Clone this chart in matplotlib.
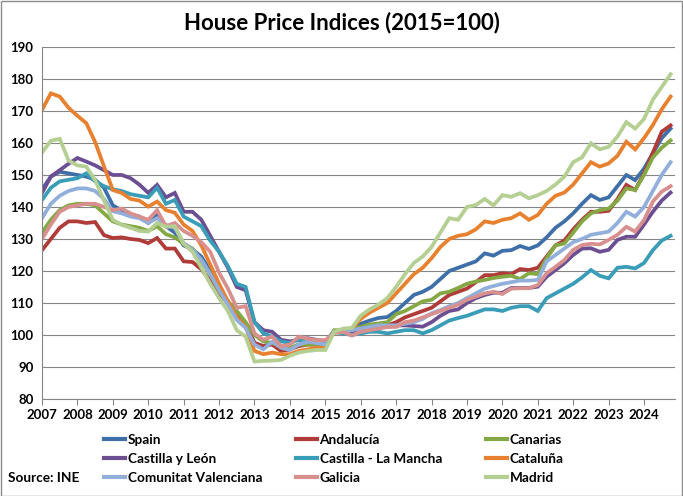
import matplotlib
matplotlib.use("Agg")
import matplotlib.pyplot as plt
from matplotlib.patches import Rectangle

plt.rcParams['font.family'] = ['Lato', 'DejaVu Sans']

# quarterly, 2007Q1 .. 2024Q4
years = list(range(2007, 2025))

spain = [145.5, 149.5, 151, 150.5, 150, 149.5, 148.5, 146, 140.5, 139, 137.5, 137,
         135, 137.5, 134, 132, 128, 126.7, 124.5, 120, 115, 110.5, 106, 103.5,
         97.5, 96.5, 97.5, 95.5, 95.5, 97, 97.5, 97, 97.5, 101, 101.5, 101.5,
         103.5, 104.5, 105.3, 105.6, 107.5, 110, 112.5, 113.5, 115, 117.5, 120, 121,
         122, 123, 125.5, 124.8, 126.3, 126.5, 127.8, 126.9, 128, 130.5, 133.5, 135.5,
         138, 141, 143.7, 142.2, 143, 146.5, 150, 148.4, 152, 156.8, 161.5, 164.5]
andalucia = [126.5, 130, 133.5, 135.5, 135.5, 135, 135.3, 131.2, 130.3, 130.5, 130, 129.7,
             128.7, 130.3, 127, 127, 123, 122.8, 120.5, 117, 113, 110, 106, 103.5,
             97.5, 96.5, 97, 95, 95.5, 96.5, 97, 97, 97.5, 101, 101.5, 101.5,
             102, 102.5, 102.8, 103, 104, 105.5, 106.5, 107.5, 108.5, 110.5, 112.5, 113.5,
             114.5, 116.5, 118.7, 118.7, 119.3, 119, 120.6, 120.3, 121, 124.5, 128, 129.5,
             133, 136, 138.5, 138.5, 138.8, 142.5, 146.9, 145.3, 150.5, 157, 163.5, 165.5]
canarias = [132, 136, 139, 140.5, 141, 141, 140.5, 138, 135.5, 134.5, 134, 133.5,
            132.5, 134, 131.5, 130.5, 128.5, 127, 123, 119, 114, 110.5, 107.5, 104,
            100, 98, 97.5, 96.5, 96, 97, 97, 97, 97, 101.5, 101.5, 102,
            102.5, 103.3, 103.6, 104, 106.5, 107.5, 109, 110.5, 111, 113, 113.5, 114.7,
            116, 116.7, 117.2, 117.8, 118.2, 118.5, 117.5, 119.3, 119, 124, 128, 128.6,
            132, 135.5, 138, 139, 139.5, 142, 145.8, 145.3, 150, 155.5, 158.5, 160.8]
castilla_leon = [144.4, 149.5, 151.5, 153.5, 155.3, 154.2, 153, 151.5, 150, 150, 149, 147,
                 144.4, 146.9, 143, 144.4, 138.5, 138.5, 136, 131, 126, 121, 115, 114,
                 104, 101.5, 101, 98.5, 98, 98.5, 99, 98.5, 98, 101, 101, 101,
                 102, 102, 102.5, 102.5, 103, 103, 102.8, 102.6, 104, 106, 107.5, 108,
                 110, 111.5, 112.5, 113.2, 113.2, 114.7, 114.7, 114.7, 115.1, 118.2, 120.3, 122.4,
                 125, 127, 127.1, 126, 126.6, 129.7, 130.7, 130.7, 134.5, 138.5, 142, 144.5]
castilla_mancha = [142.2, 146, 148, 148.5, 149, 150.5, 148, 146.5, 145.5, 145, 144, 143.5,
                   143, 146, 141, 142.2, 137, 135.5, 134, 129.5, 126, 121.5, 116, 115,
                   104, 100.5, 99.5, 98, 97.5, 98.5, 98, 97.5, 98, 101, 100.5, 100,
                   100.5, 101, 101, 100.5, 101, 101.5, 101.5, 100.5, 101.5, 103, 104.5, 105.3,
                   106, 107, 108, 108, 107.5, 108.5, 109, 109, 107.5, 111.5, 113, 114.5,
                   116, 118, 120.3, 118.5, 117.7, 121, 121.3, 120.8, 122.5, 126.5, 129.5, 131]
cataluna = [170.3, 175.5, 174.5, 171, 168.5, 166.2, 160.3, 152.7, 145.3, 144.4, 142.5, 142,
            140.1, 141.7, 139, 138.2, 134.5, 132.5, 128, 122, 116, 110.5, 105.5, 102.5,
            95, 94, 94.5, 94, 94, 95, 95.5, 96, 96, 101, 101.5, 102,
            105, 107, 108.5, 110, 113, 116, 119, 121, 124, 127.5, 130, 131,
            131.5, 133, 135.5, 135, 136, 136.5, 138, 136, 137.5, 141, 143.5, 144.5,
            147, 150.5, 154, 152.6, 153.6, 156, 160.4, 158, 161.5, 165.6, 170.5, 174.5]
valenciana = [136.5, 141, 143.5, 145, 145.8, 145.8, 145, 142.5, 138.7, 138, 137, 136.5,
              135, 136.5, 134.4, 133.5, 128.7, 126.6, 123.5, 119, 114, 109.5, 104.7, 102.2,
              97, 95.5, 97.9, 96, 95.3, 97, 97.9, 97.5, 97, 101, 101, 101.5,
              102, 102.5, 103, 103, 103, 103.5, 104, 105, 106.8, 107.8, 109, 110,
              111.5, 113, 114.5, 115.3, 116, 116.5, 117, 117, 117.2, 123, 125, 127,
              129, 130, 131.3, 131.8, 132.3, 135, 138.5, 137, 140, 145, 150, 154]
galicia = [130, 134.5, 138.5, 140, 140.5, 141, 141, 140, 139, 139.5, 138, 137,
           136, 139, 134, 135, 132.5, 131, 129, 126, 119.5, 114.5, 108.5, 109,
           100.5, 98.5, 99.5, 96.5, 97, 99.5, 98.8, 98.4, 98.4, 100.6, 101, 99.8,
           101, 101.5, 102, 102.5, 102.5, 104, 104.5, 105.5, 106.5, 107.5, 108.5, 109.5,
           111, 112, 113, 113.5, 112.8, 114.5, 114.6, 114.6, 115.6, 119.3, 121.3, 123.4,
           126.6, 128.1, 128.5, 128.3, 129.7, 131.3, 133.8, 132.3, 135.9, 141.7, 144.8, 146.5]
madrid = [157, 160.7, 161.3, 154.5, 153, 152.6, 148.4, 142, 136, 134.4, 133.5, 132.5,
          132.3, 135, 133.8, 134, 128.5, 126, 121, 116, 111.5, 107.5, 101.5, 99.5,
          91.7, 91.9, 92, 92.2, 93.5, 94.5, 95, 95.3, 95.3, 101, 102, 102.2,
          106, 108, 109.5, 111.5, 115, 119, 122.5, 124.5, 127.5, 132, 136.5, 136,
          140, 140.6, 142.5, 140.5, 143.7, 143.2, 144.3, 142.7, 143.7, 145, 147, 149.5,
          154, 155.5, 159.9, 158, 158.8, 162, 166.5, 164.5, 167.5, 173.5, 177.5, 181.5]

names = ["Spain", "Andalucía", "Canarias", "Castilla y León", "Castilla - La Mancha",
         "Cataluña", "Comunitat Valenciana", "Galicia", "Madrid"]
series = [spain, andalucia, canarias, castilla_leon, castilla_mancha,
          cataluna, valenciana, galicia, madrid]
colors = ["#3f6fa8", "#b03c3a", "#84a843", "#6b4f92", "#3a9db8",
          "#e8812f", "#92afdb", "#d8908f", "#b5cf93"]

fig = plt.figure(figsize=(6.83, 4.96), dpi=100)
ax = fig.add_axes([0.0615, 0.1956, 0.9268, 0.7097])

x = list(range(len(spain)))
lines = []
for name, vals, c in zip(names, series, colors):
    ln, = ax.plot(x, vals, color=c, lw=2.7, label=name, solid_joinstyle='miter')
    lines.append(ln)

ax.set_xlim(0, 71.5)
ax.set_ylim(80, 190)
ax.set_yticks(range(80, 191, 10))
ax.set_xticks([4 * i for i in range(len(years))])
ax.set_xticklabels([str(y) for y in years])
ax.grid(axis='y', color='#868686', lw=0.8)
ax.set_axisbelow(True)
for s in ['top', 'right']:
    ax.spines[s].set_visible(False)
for s in ['left', 'bottom']:
    ax.spines[s].set_color('#868686')
    ax.spines[s].set_linewidth(0.8)
ax.tick_params(axis='x', length=4, color='#868686', pad=3)
ax.tick_params(axis='y', length=0, pad=6)
for lab in ax.get_xticklabels() + ax.get_yticklabels():
    lab.set_fontweight('bold')
    lab.set_fontsize(9.5)

fig.text(0.5, 0.955, "House Price Indices (2015=100)", ha='center', va='center',
         fontsize=16, fontweight='bold')

# legend in three columns, row order like the original
for col in range(3):
    hs = [lines[col + 3 * r] for r in range(3)]
    lg = fig.legend(hs, [h.get_label() for h in hs], loc='upper left',
                    bbox_to_anchor=([0.153, 0.434, 0.712][col], 0.125),
                    frameon=False, handlelength=1.5, handletextpad=0.2,
                    labelspacing=0.5, borderaxespad=0, borderpad=0,
                    prop={'weight': 'bold', 'size': 9.8})
    for h in lg.get_lines():
        h.set_linewidth(3)

fig.text(0.012, 0.036, "Source: INE", ha='left', va='center', fontsize=9.8, fontweight='bold')

fig.patches.append(Rectangle((0.001, 0.001), 0.997, 0.997, transform=fig.transFigure,
                             fill=False, edgecolor='#8c8c8c', lw=1))

fig.savefig("out.png", dpi=100)
